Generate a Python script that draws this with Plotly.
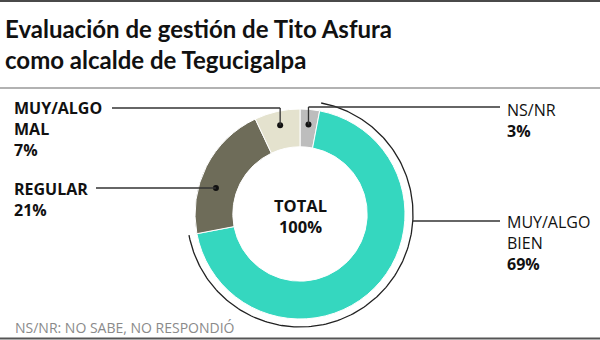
import numpy as np
import plotly.graph_objects as go

# ---------------- data ----------------
categories = ["NS/NR", "MUY/ALGO BIEN", "REGULAR", "MUY/ALGO MAL"]
values = [3, 69, 21, 7]
colors = ["#BDBDBD", "#35D7BF", "#6E6C59", "#E4E2CE"]
title_lines = ["Evaluación de gestión de Tito Asfura", "como alcalde de Tegucigalpa"]
center_lines = ["TOTAL", "100%"]
footnote = "NS/NR: NO SABE, NO RESPONDIÓ"

# ---------------- layout geometry ----------------
W, H = 600, 340
cx, cy, R = 300, 214, 105
HOLE = 0.64
ARC_R = 113

fig = go.Figure()

fig.add_trace(go.Pie(
    labels=categories, values=values, sort=False, direction="clockwise", rotation=0,
    hole=HOLE, marker=dict(colors=colors, line=dict(color="white", width=1)),
    textinfo="none", hoverinfo="label+percent", showlegend=False,
    domain=dict(x=[(cx - R) / W, (cx + R) / W], y=[(H - cy - R) / H, (H - cy + R) / H]),
))

total = sum(values)
cum = np.concatenate([[0], np.cumsum(values)]) / total * 360.0


def pt(theta_deg, r):
    t = np.radians(theta_deg)
    return cx + r * np.sin(t), cy - r * np.cos(t)


# arc around the largest slice
i_big = int(np.argmax(values))
th = np.linspace(cum[i_big], cum[i_big + 1], 200)
ax_, ay_ = pt(th, ARC_R)
fig.add_trace(go.Scatter(x=ax_, y=ay_, mode="lines", line=dict(color="#222", width=1.3),
                         hoverinfo="skip", showlegend=False))

shapes = []
LC = "#333"


def seg(x0, y0, x1, y1):
    shapes.append(dict(type="line", x0=x0, y0=y0, x1=x1, y1=y1, xref="x", yref="y",
                       line=dict(color=LC, width=1.3), layer="above"))


def dot(x, y, r=3):
    shapes.append(dict(type="circle", x0=x - r, y0=y - r, x1=x + r, y1=y + r, xref="x", yref="y",
                       fillcolor="#111", line=dict(width=0), layer="above"))


mid = (cum[:-1] + cum[1:]) / 2
# NS/NR
gx, gy = pt(mid[0], 90)
dot(gx, gy); seg(gx, gy, gx, 107); seg(gx, 107, 500, 107)
# MUY/ALGO MAL
bx, by = pt(mid[3], 91)
dot(bx, by); seg(bx, by, bx, 108); seg(bx, 108, 112, 108)
# REGULAR
ry = 188
rx = cx - np.sqrt(88 ** 2 - (cy - ry) ** 2)
dot(rx, ry); seg(rx, ry, 96, ry)
# MUY/ALGO BIEN
ly = 221
lx = cx + np.sqrt(ARC_R ** 2 - (ly - cy) ** 2)
seg(lx, ly, 500, ly)

# frame lines
shapes.append(dict(type="line", x0=0, x1=W, y0=1, y1=1, xref="x", yref="y", line=dict(color="#4a4a4a", width=2)))
shapes.append(dict(type="line", x0=0, x1=W, y0=88, y1=88, xref="x", yref="y", line=dict(color="#999", width=1.5)))
shapes.append(dict(type="line", x0=0, x1=W, y0=338.5, y1=338.5, xref="x", yref="y", line=dict(color="#555", width=2)))

annotations = []
LBL_FONT = "Open Sans, sans-serif"


def block(x, y_first, lines, size, color="#111", family=LBL_FONT, xanchor="left", align="left"):
    n = len(lines)
    lh = 1.3 * size
    annotations.append(dict(x=x, y=y_first + (n - 1) * lh / 2, xref="x", yref="y",
                            text="<br>".join(lines), showarrow=False, xanchor=xanchor,
                            yanchor="middle", align=align,
                            font=dict(size=size, color=color, family=family)))


label_pos = {"NS/NR": (505, 110), "MUY/ALGO BIEN": (505, 222), "REGULAR": (12, 189), "MUY/ALGO MAL": (12, 108)}
for cat, v in zip(categories, values):
    x0, y0 = label_pos[cat]
    left_side = x0 < cx
    parts = cat.split(" ")
    lines = [f"<b>{p}</b>" if left_side else p for p in parts] + [f"<b>{v}%</b>"]
    block(x0, y0, lines, 16)

block(3, 28, [f"<b>{t}</b>" for t in title_lines], 24, family="Lato, sans-serif")
block(cx, 205, [f"<b>{t}</b>" for t in center_lines], 16.5, xanchor="center", align="center")
block(13, 327, [footnote], 14, color="#8a8a8a")

fig.update_layout(
    width=W, height=H, margin=dict(l=0, r=0, t=0, b=0),
    paper_bgcolor="white", plot_bgcolor="white",
    xaxis=dict(range=[0, W], visible=False, fixedrange=True, domain=[0, 1]),
    yaxis=dict(range=[H, 0], visible=False, fixedrange=True, domain=[0, 1]),
    shapes=shapes, annotations=annotations,
)

fig.write_html("out.html")
